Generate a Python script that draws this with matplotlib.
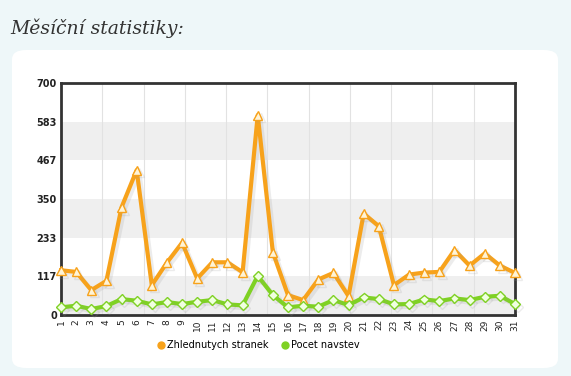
import numpy as np
import matplotlib
matplotlib.use("Agg")
import matplotlib.pyplot as plt
import matplotlib.patheffects as pe
from matplotlib.patches import FancyBboxPatch
from matplotlib.lines import Line2D

days = list(range(1, 32))
zhlednuti = [135, 130, 75, 103, 325, 437, 90, 158, 218, 110, 159, 159, 129, 603, 189,
             60, 45, 107, 127, 57, 306, 268, 90, 122, 128, 130, 196, 149, 186, 149, 127]
navstevy = [23, 28, 18, 27, 48, 43, 32, 39, 33, 40, 45, 32, 29, 118, 60,
            23, 28, 25, 45, 30, 53, 48, 32, 33, 47, 42, 50, 45, 55, 58, 33]
yticks = [0, 117, 233, 350, 467, 583, 700]
series_names = ["Zhlednutych stranek", "Pocet navstev"]

orange = "#f7a21b"
green = "#7fd124"

fig = plt.figure(figsize=(5.71, 3.76), dpi=100)
fig.patch.set_facecolor("#eef7f9")

# white rounded panel
W, H = 571, 376
panel = FancyBboxPatch((12 / W, 1 - 368 / H), 546 / W, 318 / H,
                       boxstyle="round,pad=0,rounding_size=0.025",
                       transform=fig.transFigure, facecolor="white",
                       edgecolor="none", zorder=-5)
fig.patches.append(panel)

fig.text(10 / W, 1 - 28 / H, "Měsíční statistiky:", fontsize=13.5,
         family="DejaVu Serif", style="italic", color="#333333", va="center")

ax = fig.add_axes([61 / W, 1 - 315 / H, 454 / W, 232 / H])
ax.set_facecolor("white")

# alternating bands
for i in range(0, len(yticks) - 1, 2):
    ax.axhspan(yticks[i], yticks[i + 1], color="#efefef", zorder=0, lw=0)
for k in range(1, 11):
    ax.axvline(1 + 30 * k / 11, color="#e2e2e2", lw=0.8, zorder=0.5)

shadow = [pe.SimpleLineShadow(offset=(2, -2), shadow_color="#999999", alpha=0.18),
          pe.Normal()]
ax.plot(days, zhlednuti, color=orange, lw=3, marker="^", ms=6.5,
        mfc="#fff4d6", mec=orange, mew=1, path_effects=shadow, zorder=3,
        clip_on=False)
ax.plot(days, navstevy, color=green, lw=3, marker="D", ms=5,
        mfc="#f0ffe0", mec=green, mew=1, path_effects=shadow, zorder=3,
        clip_on=False)

ax.set_xlim(1, 31)
ax.set_ylim(0, 700)
ax.set_yticks(yticks)
ax.set_yticklabels([str(v) for v in yticks], fontsize=7, fontweight="bold",
                   color="#222222")
ax.set_xticks(days)
ax.set_xticklabels([str(d) for d in days], rotation=90, fontsize=6.5,
                   color="#222222")
ax.tick_params(axis="y", length=0, pad=3)
ax.tick_params(axis="x", length=0, pad=3)
for s in ax.spines.values():
    s.set_linewidth(2)
    s.set_color("#333333")

handles = [Line2D([], [], ls="none", marker="o", ms=5, color=orange),
           Line2D([], [], ls="none", marker="o", ms=5, color=green)]
fig.legend(handles, series_names, loc="center", bbox_to_anchor=(258 / W, 1 - 345 / H),
           ncol=2, frameon=False, fontsize=7, handletextpad=0.1, columnspacing=1.2,
           handlelength=1)

fig.savefig("out.png", dpi=100, facecolor=fig.get_facecolor())
